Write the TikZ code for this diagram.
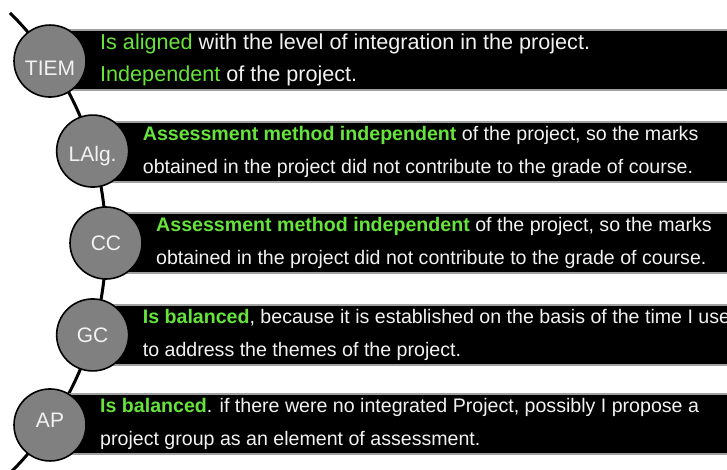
\documentclass[tikz,border=0pt]{standalone}
\usepackage{fontspec}
\setmainfont{Liberation Sans}
\usepackage{tikz}
\usetikzlibrary{positioning,calc}
\definecolor{cgreen}{HTML}{66E43C}
\definecolor{cdot}{HTML}{808080}
\definecolor{cedge}{HTML}{A0A0A0}
\definecolor{cwhite}{HTML}{F2F2F2}
\newcommand{\hl}[1]{\textcolor{cgreen}{#1}}
\newcommand{\hlb}[1]{\textcolor{cgreen}{\bfseries #1}}
\tikzset{
 spine/.style={draw=black, line width=3pt},
 bar/.style={rectangle, draw=cedge, line width=2pt, fill=black, anchor=west,
 minimum width=720pt, minimum height=60pt, inner sep=0pt},
 dot/.style={circle, draw=black, line width=1.6pt, fill=cdot,
 minimum size=72pt, inner sep=0pt},
 tag/.style={text=cwhite, inner sep=0pt, font=\fontsize{21}{21}\selectfont},
 txt/.style={text=cwhite, align=left, inner sep=0pt,
 font=\fontsize{19.6}{33.5}\selectfont},
 txtA/.style={txt, font=\fontsize{21.6}{32}\selectfont},
}

\begin{document}
\begin{tikzpicture}[x=1pt, y=-1pt]
 \useasboundingbox (0,0) rectangle (727,470);
 % arc centre and radius
 \coordinate (ctr) at (-217.75,243);
 \def\rad{323.75}
 \coordinate (top) at ($(ctr)+(-45.3:\rad)$);
 \draw[spine] (top) arc[start angle=-45.3, end angle=47, radius=\rad];
 % circles on the arc
 \coordinate (pTIEM) at ($(ctr)+(-34.2:\rad)$);
 \coordinate (pLA) at ($(ctr)+(-16.5:\rad)$);
 \coordinate (pCC) at ($(ctr)+(0:\rad)$);
 \coordinate (pGC) at ($(ctr)+(16.5:\rad)$);
 \coordinate (pAP) at ($(ctr)+(34.2:\rad)$);
 % bars
 \node[bar] (bTIEM) at ($(pTIEM)+(0,-1.5)$) {};
 \node[bar] (bLA) at ($(pLA)+(0,1)$) {};
 \node[bar] (bCC) at (pCC) {};
 \node[bar] (bGC) at (pGC) {};
 \node[bar] (bAP) at ($(pAP)+(0,-1)$) {};
 % circles
 \node[dot] (TIEM) at (pTIEM) {};
 \node[dot] (LA) at (pLA) {};
 \node[dot] (CC) at (pCC) {};
 \node[dot] (GC) at (pGC) {};
 \node[dot] (AP) at (pAP) {};
 \node[tag, yshift=-7pt] (tTIEM) at (TIEM) {TIEM};
 \node[tag, yshift=-5pt] (tLA) at (LA) {LAlg.};
 \node[tag] (tCC) at (CC) {CC};
 \node[tag] (tGC) at (GC) {GC};
 \node[tag, yshift=5pt] (tAP) at (AP) {AP};
 % texts
 \node[txtA, right=50pt of bTIEM.west] (xTIEM)
 {\hl{Is aligned} with the level of integration in the project.\\
 \hl{Independent} of the project.};
 \node[txt, right=50pt of bLA.west] (xLA)
 {\hlb{Assessment method independent} of the project, so the marks\\
 obtained in the project did not contribute to the grade of course.};
 \node[txt, right=50pt of bCC.west] (xCC)
 {\hlb{Assessment method independent} of the project, so the marks\\
 obtained in the project did not contribute to the grade of course.};
 \node[txt, right=50pt of bGC.west] (xGC)
 {\hlb{Is balanced}, because it is established on the basis of the time I use\\
 to address the themes of the project.};
 \node[txt, right=50pt of bAP.west] (xAP)
 {\hlb{Is balanced}. if there were no integrated Project, possibly I propose a\\
 project group as an element of assessment.};
\end{tikzpicture}
\end{document}
